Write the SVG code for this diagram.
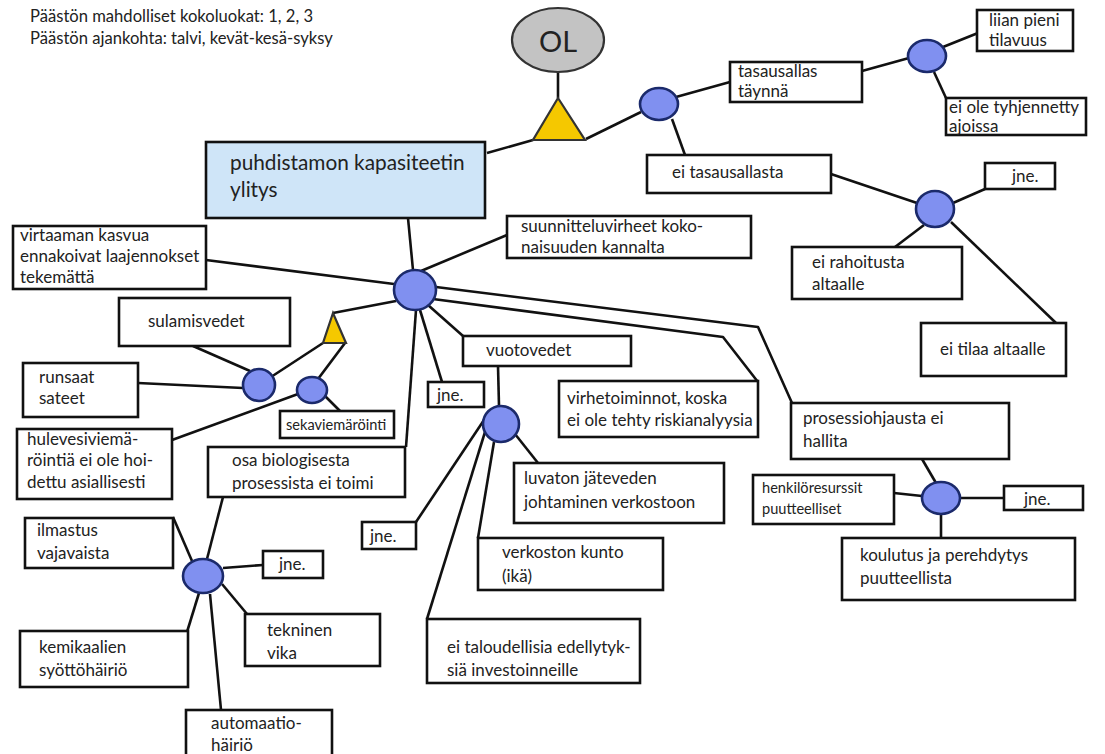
<svg xmlns="http://www.w3.org/2000/svg" width="1105" height="754" viewBox="0 0 1105 754">
  <style>
    text { font-family: "Lato", "Liberation Sans", sans-serif; fill: #222; font-size: 17px; }
    .box { fill: #ffffff; stroke: #111; stroke-width: 2.6; }
    .top { fill: #cfe5f8; stroke: #111; stroke-width: 2.6; }
    .gate { fill: #8090f0; stroke: #1b2a6b; stroke-width: 2.6; }
    .tri { fill: #f5c800; stroke: #333; stroke-width: 2.2; stroke-linejoin: miter; }
    .link { fill: none; stroke: #111; stroke-width: 2.6; stroke-linejoin: round; }
    .hdr { font-size: 16.6px; }
    .big { font-size: 20.8px; }
    .small { font-size: 14.6px; }
  </style>

  <rect width="1105" height="754" fill="#ffffff"/>

  <!-- header notes -->
  <g id="notes">
    <text class="hdr" x="30" y="22">Päästön mahdolliset kokoluokat: 1, 2, 3</text>
    <text class="hdr" x="30" y="44">Päästön ajankohta: talvi, kevät-kesä-syksy</text>
  </g>

  <!-- connectors -->
  <g id="connectors" class="link">
    <line x1="558" y1="72" x2="558" y2="98"/>
    <line x1="487" y1="153" x2="533" y2="140"/>
    <line x1="586" y1="139" x2="641" y2="112"/>
    <line x1="676" y1="97" x2="730" y2="82"/>
    <line x1="672" y1="119" x2="685" y2="155"/>
    <line x1="862" y1="71" x2="909" y2="58"/>
    <line x1="943" y1="47" x2="978" y2="33"/>
    <line x1="934" y1="72" x2="946" y2="98"/>
    <line x1="831" y1="174" x2="917" y2="203"/>
    <line x1="953" y1="203" x2="985" y2="189"/>
    <line x1="924" y1="225" x2="895" y2="247"/>
    <line x1="951" y1="222" x2="1056" y2="323"/>
    <line x1="408" y1="218" x2="413" y2="270"/>
    <line x1="421" y1="271" x2="507" y2="235"/>
    <line x1="206" y1="260" x2="394" y2="284"/>
    <polyline points="436,287 758,327 792,403"/>
    <polyline points="433,299 723,337 758,382"/>
    <line x1="428" y1="305" x2="463" y2="336"/>
    <line x1="420" y1="310" x2="442" y2="382"/>
    <line x1="416" y1="310" x2="406" y2="447"/>
    <line x1="396" y1="301" x2="333" y2="313"/>
    <line x1="323" y1="343" x2="271" y2="377"/>
    <line x1="345" y1="343" x2="318" y2="379"/>
    <line x1="193" y1="346" x2="250" y2="371"/>
    <line x1="138" y1="383" x2="243" y2="388"/>
    <line x1="172" y1="440" x2="298" y2="394"/>
    <line x1="325" y1="396" x2="340" y2="411"/>
    <line x1="498" y1="366" x2="499" y2="406"/>
    <line x1="515" y1="434" x2="538" y2="463"/>
    <line x1="494" y1="442" x2="478" y2="538"/>
    <line x1="485" y1="432" x2="427" y2="619"/>
    <line x1="484" y1="420" x2="416" y2="522"/>
    <line x1="922" y1="459" x2="936" y2="483"/>
    <line x1="894" y1="493" x2="922" y2="496"/>
    <line x1="960" y1="498" x2="1004" y2="498"/>
    <line x1="941" y1="514" x2="941" y2="538"/>
    <line x1="207" y1="559" x2="223" y2="497"/>
    <line x1="192" y1="561" x2="173" y2="517"/>
    <line x1="223" y1="568" x2="263" y2="565"/>
    <line x1="222" y1="584" x2="247" y2="614"/>
    <line x1="199" y1="593" x2="187" y2="632"/>
    <line x1="210" y1="594" x2="221" y2="710"/>
  </g>

  <!-- top event -->
  <g id="ol">
    <ellipse cx="558" cy="40" rx="46" ry="32" fill="#c3c3c3" stroke="#333" stroke-width="2.2"/>
    <text x="558" y="52" text-anchor="middle" style="font-size:29px">OL</text>
  </g>
  <g id="gate-top">
    <polygon class="tri" points="558,98 533,140 585,140"/>
  </g>
  <g id="top-event">
    <rect class="top" x="206" y="142" width="279" height="76"/>
    <text class="big" x="230" y="170">puhdistamon kapasiteetin</text>
    <text class="big" x="230" y="197">ylitys</text>
  </g>

  <!-- equalisation basin branch -->
  <g id="gate-basin"><ellipse class="gate" cx="659" cy="104" rx="19" ry="16"/></g>
  <g id="basin-full">
    <rect class="box" x="730" y="62" width="132" height="40"/>
    <text x="738" y="77">tasausallas</text>
    <text x="738" y="97">täynnä</text>
  </g>
  <g id="gate-full"><ellipse class="gate" cx="927" cy="56" rx="19" ry="16"/></g>
  <g id="too-small">
    <rect class="box" x="977" y="10" width="96" height="41"/>
    <text x="989" y="26">liian pieni</text>
    <text x="989" y="46">tilavuus</text>
  </g>
  <g id="not-emptied">
    <rect class="box" x="946" y="98" width="140" height="37"/>
    <text x="949" y="113">ei ole tyhjennetty</text>
    <text x="949" y="132">ajoissa</text>
  </g>
  <g id="no-basin">
    <rect class="box" x="647" y="155" width="184" height="38"/>
    <text x="672" y="178">ei tasausallasta</text>
  </g>
  <g id="gate-nobasin"><ellipse class="gate" cx="935" cy="209" rx="19" ry="18"/></g>
  <g id="etc-basin">
    <rect class="box" x="985" y="163" width="70" height="26"/>
    <text x="1012" y="182">jne.</text>
  </g>
  <g id="no-funding">
    <rect class="box" x="792" y="247" width="170" height="52"/>
    <text x="812" y="268">ei rahoitusta</text>
    <text x="812" y="290">altaalle</text>
  </g>
  <g id="no-space">
    <rect class="box" x="921" y="323" width="145" height="53"/>
    <text x="940" y="355">ei tilaa altaalle</text>
  </g>

  <!-- main causes -->
  <g id="gate-main"><ellipse class="gate" cx="415" cy="290" rx="21" ry="20"/></g>
  <g id="design-errors">
    <rect class="box" x="507" y="216" width="244" height="42"/>
    <text x="521" y="232">suunnitteluvirheet koko-</text>
    <text x="521" y="253">naisuuden kannalta</text>
  </g>
  <g id="expansion">
    <rect class="box" x="13" y="226" width="193" height="63"/>
    <text x="20" y="241">virtaaman kasvua</text>
    <text x="20" y="262">ennakoivat laajennokset</text>
    <text x="20" y="283">tekemättä</text>
  </g>
  <g id="leakage">
    <rect class="box" x="463" y="336" width="168" height="30"/>
    <text x="486" y="356">vuotovedet</text>
  </g>
  <g id="etc-main">
    <rect class="box" x="428" y="382" width="56" height="25"/>
    <text x="437" y="401">jne.</text>
  </g>
  <g id="malfunctions">
    <rect class="box" x="559" y="381" width="199" height="56"/>
    <text x="567" y="404">virhetoiminnot, koska</text>
    <text x="567" y="426">ei ole tehty riskianalyysia</text>
  </g>
  <g id="process-control">
    <rect class="box" x="791" y="403" width="218" height="56"/>
    <text x="803" y="424">prosessiohjausta ei</text>
    <text x="803" y="447">hallita</text>
  </g>

  <!-- storm / melt water branch -->
  <g id="gate-water"><polygon class="tri" points="333,313 323,343 346,343"/></g>
  <g id="gate-rain"><ellipse class="gate" cx="259" cy="385" rx="16" ry="16"/></g>
  <g id="gate-combined"><ellipse class="gate" cx="312" cy="390" rx="15" ry="13"/></g>
  <g id="meltwater">
    <rect class="box" x="119" y="298" width="171" height="48"/>
    <text x="148" y="327">sulamisvedet</text>
  </g>
  <g id="heavy-rain">
    <rect class="box" x="23" y="363" width="115" height="54"/>
    <text x="39" y="383">runsaat</text>
    <text x="39" y="404">sateet</text>
  </g>
  <g id="combined-sewer">
    <rect class="box" x="280" y="411" width="114" height="27"/>
    <text class="small" x="286" y="430">sekaviemäröinti</text>
  </g>
  <g id="storm-sewer">
    <rect class="box" x="17" y="429" width="155" height="70"/>
    <text x="27" y="445">hulevesiviemä-</text>
    <text x="27" y="466">röintiä ei ole hoi-</text>
    <text x="27" y="488">dettu asiallisesti</text>
  </g>

  <!-- biological process branch -->
  <g id="bio-process">
    <rect class="box" x="208" y="447" width="197" height="50"/>
    <text x="232" y="466">osa biologisesta</text>
    <text x="232" y="489">prosessista ei toimi</text>
  </g>
  <g id="gate-bio"><ellipse class="gate" cx="203" cy="576" rx="20" ry="17"/></g>
  <g id="aeration">
    <rect class="box" x="25" y="518" width="148" height="50"/>
    <text x="37" y="536">ilmastus</text>
    <text x="37" y="559">vajavaista</text>
  </g>
  <g id="etc-bio">
    <rect class="box" x="263" y="551" width="60" height="27"/>
    <text x="279" y="570">jne.</text>
  </g>
  <g id="technical-fault">
    <rect class="box" x="245" y="614" width="135" height="52"/>
    <text x="267" y="636">tekninen</text>
    <text x="267" y="659">vika</text>
  </g>
  <g id="chemical-dosing">
    <rect class="box" x="20" y="631" width="168" height="56"/>
    <text x="39" y="653">kemikaalien</text>
    <text x="39" y="676">syöttöhäiriö</text>
  </g>
  <g id="automation">
    <rect class="box" x="186" y="710" width="146" height="52"/>
    <text x="211" y="729">automaatio-</text>
    <text x="211" y="751">häiriö</text>
  </g>

  <!-- leakage water branch -->
  <g id="gate-leak"><ellipse class="gate" cx="501" cy="424" rx="18" ry="18"/></g>
  <g id="unauthorised">
    <rect class="box" x="514" y="463" width="210" height="60"/>
    <text x="524" y="484">luvaton jäteveden</text>
    <text x="524" y="508">johtaminen verkostoon</text>
  </g>
  <g id="network-condition">
    <rect class="box" x="478" y="538" width="185" height="52"/>
    <text x="502" y="558">verkoston kunto</text>
    <text x="502" y="582">(ikä)</text>
  </g>
  <g id="etc-leak">
    <rect class="box" x="362" y="522" width="54" height="27"/>
    <text x="370" y="542">jne.</text>
  </g>
  <g id="no-investment">
    <rect class="box" x="427" y="619" width="213" height="64"/>
    <text x="447" y="653">ei taloudellisia edellytyk-</text>
    <text x="447" y="676">siä investoinneille</text>
  </g>

  <!-- process control branch -->
  <g id="gate-control"><ellipse class="gate" cx="941" cy="498" rx="19" ry="16"/></g>
  <g id="staff">
    <rect class="box" x="753" y="475" width="141" height="49"/>
    <text class="small" x="762" y="493">henkilöresurssit</text>
    <text class="small" x="762" y="514">puutteelliset</text>
  </g>
  <g id="etc-control">
    <rect class="box" x="1004" y="486" width="79" height="24"/>
    <text x="1024" y="505">jne.</text>
  </g>
  <g id="training">
    <rect class="box" x="842" y="538" width="233" height="62"/>
    <text x="860" y="561">koulutus ja perehdytys</text>
    <text x="860" y="584">puutteellista</text>
  </g>
</svg>
